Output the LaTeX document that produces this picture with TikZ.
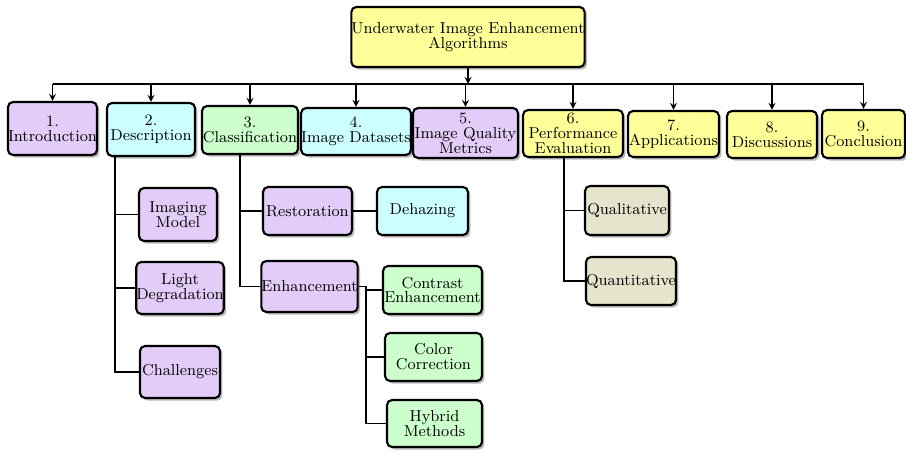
\documentclass[tikz,border=0pt]{standalone}
\usepackage{tikz}
\usepackage{xcolor}
\usetikzlibrary{calc}
\usetikzlibrary{positioning}
\usetikzlibrary{arrows}
\usetikzlibrary{shadows}
\definecolor{lav}{HTML}{E3CCF7}
\definecolor{aqua}{HTML}{CCFFFF}
\definecolor{mint}{HTML}{CCFFCC}
\definecolor{lemon}{HTML}{FFFF99}
\definecolor{khaki}{HTML}{E6E4CC}
\def\thickness{very thick}
\tikzset{
box/.style 2 args={
	draw, \thickness, rounded corners=0.1cm, fill=#1,
	drop shadow={shadow xshift=0.05cm, shadow yshift=-0.05cm, fill=black!45, opacity=0.6},
	align=center, inner xsep=0pt, inner ysep=1pt, minimum width=#2,
	font=\fontsize{9}{8.5}\selectfont
},
link/.style={line width=0.8pt},
alink/.style={line width=0.8pt, -stealth},
}
\begin{document}
\begin{tikzpicture}[x=0.02cm, y=-0.02cm]
\useasboundingbox (0,0) rectangle (906,451);

\node[box={lemon}{4.4cm}, minimum height=1.2cm] (top) at (468,37) {Underwater Image Enhancement\\Algorithms};

%
\node[box={lav}{1.78cm}, minimum height=1.06cm] (intro) at (52.5,128.5) {1.\\Introduction};
\node[box={aqua}{1.76cm}, minimum height=1.06cm] (desc) at (151,129.5) {2.\\Description};
\node[box={mint}{1.92cm}, minimum height=0.96cm] (clas) at (250,130) {3.\\Classification};
\node[box={aqua}{2.04cm}, minimum height=0.94cm] (data) at (356,131.5) {4.\\Image Datasets};
\node[box={lav}{2.1cm}, minimum height=1.0cm] (metr) at (465.5,133) {5.\\Image Quality\\Metrics};
\node[box={lemon}{2.0cm}, minimum height=0.94cm] (perf) at (573,133.5) {6.\\Performance\\Evaluation};
\node[box={lemon}{1.82cm}, minimum height=0.92cm] (appl) at (673.5,134) {7.\\Applications};
\node[box={lemon}{1.8cm}, minimum height=0.94cm] (disc) at (772,134.5) {8.\\Discussions};
\node[box={lemon}{1.66cm}, minimum height=0.96cm] (concl) at (863.5,134) {9.\\Conclusion};

%
\node[box={lav}{1.56cm}, minimum height=1.06cm] (imod) at (178,214.5) {Imaging\\Model};
\node[box={lav}{1.64cm}, minimum height=1.04cm] (light) at (180,288) {Light\\Degradation};
\node[box={lav}{1.6cm}, minimum height=1.04cm] (chal) at (180,372) {Challenges};

%
\node[box={lav}{1.78cm}, minimum height=0.96cm] (rest) at (307.5,211) {Restoration};
\node[box={aqua}{1.82cm}, minimum height=0.96cm] (deh) at (422.5,211) {Dehazing};
\node[box={lav}{1.86cm}, minimum height=1.02cm] (enh) at (309.5,286.5) {Enhancement};
\node[box={mint}{1.98cm}, minimum height=0.96cm] (contr) at (432.5,290) {Contrast\\Enhancement};
\node[box={mint}{1.94cm}, minimum height=0.96cm] (colc) at (433.5,357) {Color\\Correction};
\node[box={mint}{1.9cm}, minimum height=0.94cm] (hyb) at (434.5,423.5) {Hybrid\\Methods};

%
\node[box={khaki}{1.68cm}, minimum height=0.98cm] (qual) at (627,210.5) {Qualitative};
\node[box={khaki}{1.8cm}, minimum height=0.96cm] (quan) at (631,281) {Quantitative};

%
\coordinate (bus) at (0,84);
\coordinate (dtr) at (115,0);
\coordinate (ctr) at (240,0);
\coordinate (etr) at (366,0);
\coordinate (ptr) at (564,0);

%
\draw[alink] (top.south) to (top.south |- bus);
\draw[link] (intro.north |- bus) to (concl.north |- bus);
\foreach \n in {intro,desc,clas,data,metr,perf,appl,disc,concl}
	\draw[alink] (\n.north |- bus) to (\n.north);

%
\draw[link] (dtr |- desc.south) |- (chal.west);
\draw[link] (dtr |- imod.west) to (imod.west);
\draw[link] (dtr |- light.west) to (light.west);

%
\draw[link] (ctr |- clas.south) |- (enh.west);
\draw[link] (ctr |- rest.west) to (rest.west);
\draw[link] (rest.east) to (deh.west);

%
\draw[link] (enh.east) to (etr |- enh.east) |- (hyb.west);
\draw[link] (etr |- contr.west) to (contr.west);
\draw[link] (etr |- colc.west) to (colc.west);

%
\draw[link] (ptr |- perf.south) |- (quan.west);
\draw[link] (ptr |- qual.west) to (qual.west);
\end{tikzpicture}
\end{document}
